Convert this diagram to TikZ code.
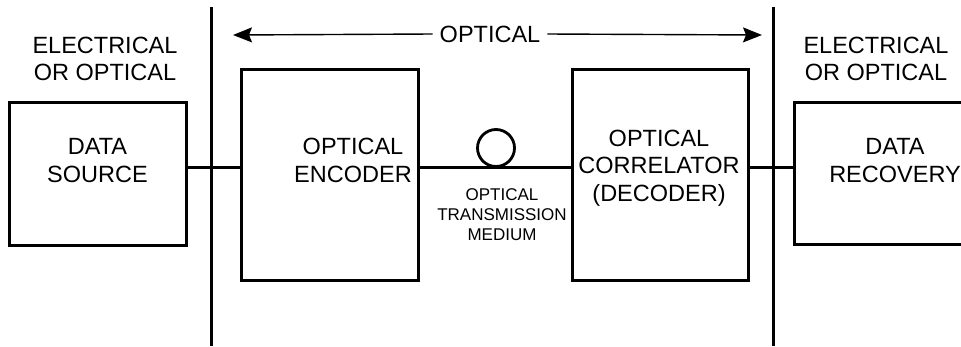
\documentclass[tikz,border=0pt]{standalone}
\usepackage{fontspec}
\setmainfont{Liberation Sans}
\usetikzlibrary{arrows.meta}
\begin{document}
\begin{tikzpicture}[x=1pt,y=-1pt,
  box/.style={draw,line width=3pt,rectangle,inner sep=0pt},
  big/.style={align=center,font=\fontsize{23.5}{27.5}\selectfont,inner sep=0pt},
  small/.style={align=center,font=\fontsize{17}{20}\selectfont,inner sep=0pt},
  thick line/.style={line width=3pt},
  bar/.style={line width=3pt},
  optarrow/.style={line width=1.4pt,-{Stealth[length=19pt,width=15pt,inset=3pt]}}]
\useasboundingbox (0,0) rectangle (961,346);
\clip (0,0) rectangle (961,346);
% boxes
\node[box,minimum width=177pt,minimum height=143pt] (src) at (97.5,173.5) {};
\node[box,minimum width=177pt,minimum height=211pt] (enc) at (329.5,174.5) {};
\node[box,minimum width=176pt,minimum height=211pt] (cor) at (660,174.5) {};
\node[box,minimum width=202pt,minimum height=142pt] (rec) at (895,173) {};
% texts
\node[big] (t1) at (105,59) {ELECTRICAL\\OR OPTICAL};
\node[big] (t2) at (876,59) {ELECTRICAL\\OR OPTICAL};
\node[big] (ts) at (97.5,160.5) {DATA\\SOURCE};
\node[big] (te) at (353,160.5) {OPTICAL\\ENCODER};
\node[big] (tc) at (659,168) {OPTICAL\\CORRELATOR\\(DECODER)};
\node[big] (tr) at (895,160.5) {DATA\\RECOVERY};
\node[small] (tm) at (502,215) {OPTICAL\\TRANSMISSION\\MEDIUM};
% vertical bars
\coordinate (l1) at (211,7); \coordinate (l2) at (211,346);
\coordinate (r1) at (773,7); \coordinate (r2) at (773,346);
\draw[bar] (l1) -- (l2);
\draw[bar] (r1) -- (r2);
% connectors
\draw[thick line] (src.east |- 0,167) -- (enc.west |- 0,167);
\draw[thick line] (enc.east |- 0,167) -- (cor.west |- 0,167);
\draw[thick line] (cor.east |- 0,167) -- (rec.west |- 0,167);
% fiber loop
\node[draw,circle,line width=2.8pt,minimum size=37pt,inner sep=0pt] (loop) at (496,148) {};
% optical arrow
\coordinate (a1) at (233,35); \coordinate (a2) at (762,35);
\node[big,fill=white,inner xsep=7pt,inner ysep=4pt] (topt) at (490,34) {OPTICAL};
\draw[optarrow] (topt.west) -- (a1);
\draw[optarrow] (topt.east) -- (a2);
\end{tikzpicture}
\end{document}
